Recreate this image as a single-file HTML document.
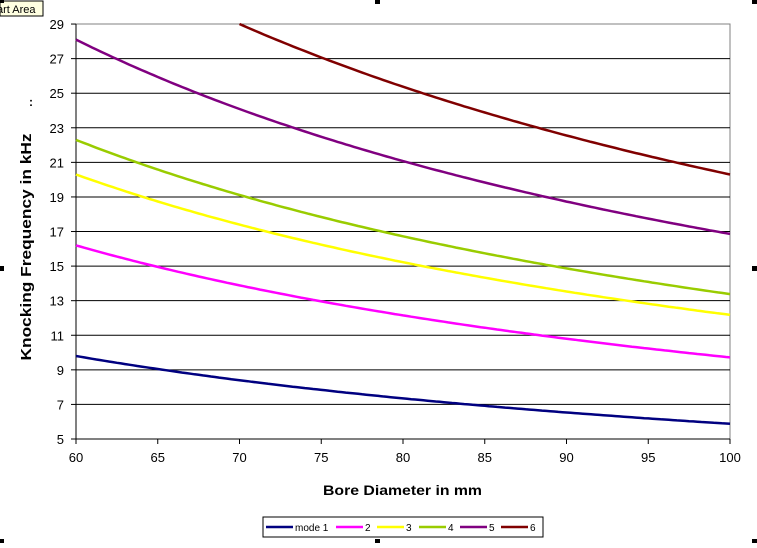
<!DOCTYPE html>
<html><head><style>
body{margin:0;background:#fff;width:757px;height:543px;overflow:hidden;font-family:"Liberation Sans",Arial,sans-serif}
</style></head><body>
<svg id="s" width="757" height="543" xmlns="http://www.w3.org/2000/svg" font-family="Liberation Sans, Arial, sans-serif">
<rect x="76" y="24" width="654" height="415" fill="#fff" stroke="#808080"/>
<g id="grid"></g>
<g id="curves" fill="none" stroke-width="2.5"></g>
<text x="31" y="247" font-size="15" font-weight="bold" text-anchor="middle" textLength="227" lengthAdjust="spacingAndGlyphs" transform="rotate(-90 31 247)">Knocking Frequency in kHz</text>
<text x="31" y="106" font-size="12" font-weight="bold" text-anchor="middle">:</text>
<text x="402.5" y="495" font-size="14" font-weight="bold" text-anchor="middle" textLength="159" lengthAdjust="spacingAndGlyphs">Bore Diameter in mm</text>
<rect x="263" y="517" width="280" height="20" fill="#fff" stroke="#000"/>
<g font-size="10" id="leg"></g>
<rect x="0" y="1" width="43" height="15" fill="#ffffe1" stroke="#000" stroke-width="1"/>
<text x="-3" y="13" font-size="11">art Area</text>
<rect x="0" y="0" width="4" height="3" fill="#000"/>
<rect x="375" y="0" width="5" height="4" fill="#000"/>
<rect x="752" y="0" width="5" height="4" fill="#000"/>
<rect x="0" y="266" width="4" height="5" fill="#000"/>
<rect x="752" y="266" width="5" height="5" fill="#000"/>
<rect x="375" y="539" width="5" height="4" fill="#000"/>
<rect x="0" y="539" width="4" height="4" fill="#000"/>
<rect x="752" y="539" width="5" height="4" fill="#000"/>
</svg>
<script>
var ns="http://www.w3.org/2000/svg",g=document.getElementById('grid'),c=document.getElementById('curves'),L=document.getElementById('leg');
function X(d){return 76+(d-60)*16.35}function Y(f){return 439-(f-5)*17.29}
function el(p,t,a,txt){var e=document.createElementNS(ns,t);for(var k in a)e.setAttribute(k,a[k]);if(txt)e.textContent=txt;p.appendChild(e);return e}
for(var v=5;v<=29;v+=2){var y=Y(v);if(v>5&&v<29)el(g,'line',{x1:76,x2:730,y1:y,y2:y,stroke:'#000','stroke-width':1});
el(g,'line',{x1:71,x2:76,y1:y,y2:y,stroke:'#000'});el(g,'text',{x:64,y:y+5,'font-size':13,'text-anchor':'end'},String(v));}
for(var d=60;d<=100;d+=5){var x=X(d);el(g,'line',{x1:x,x2:x,y1:439,y2:444,stroke:'#000'});el(g,'text',{x:x,y:462,'font-size':13,'text-anchor':'middle'},String(d));}
el(g,'line',{x1:76,x2:76,y1:24,y2:439,stroke:'#000'});el(g,'line',{x1:76,x2:730,y1:439,y2:439,stroke:'#000'});
var S=[[588,'#000080','mode 1'],[972,'#ff00ff','2'],[1218,'#ffff00','3'],[1338,'#99cc00','4'],[1686,'#800080','5'],[2030,'#800000','6']];
S.forEach(function(s){var p='';for(var d=60;d<=100;d+=0.25){var f=s[0]/d;if(f>29)continue;p+=(p?'L':'M')+X(d).toFixed(1)+' '+Y(f).toFixed(1);}
el(c,'path',{d:p,stroke:s[1]});});
var lx=[266,336,377,419,460,501];
S.forEach(function(s,i){el(L,'line',{x1:lx[i],x2:lx[i]+27,y1:527,y2:527,stroke:s[1],'stroke-width':2.5});el(L,'text',{x:lx[i]+29,y:531},s[2]);});
</script>
</body></html>
